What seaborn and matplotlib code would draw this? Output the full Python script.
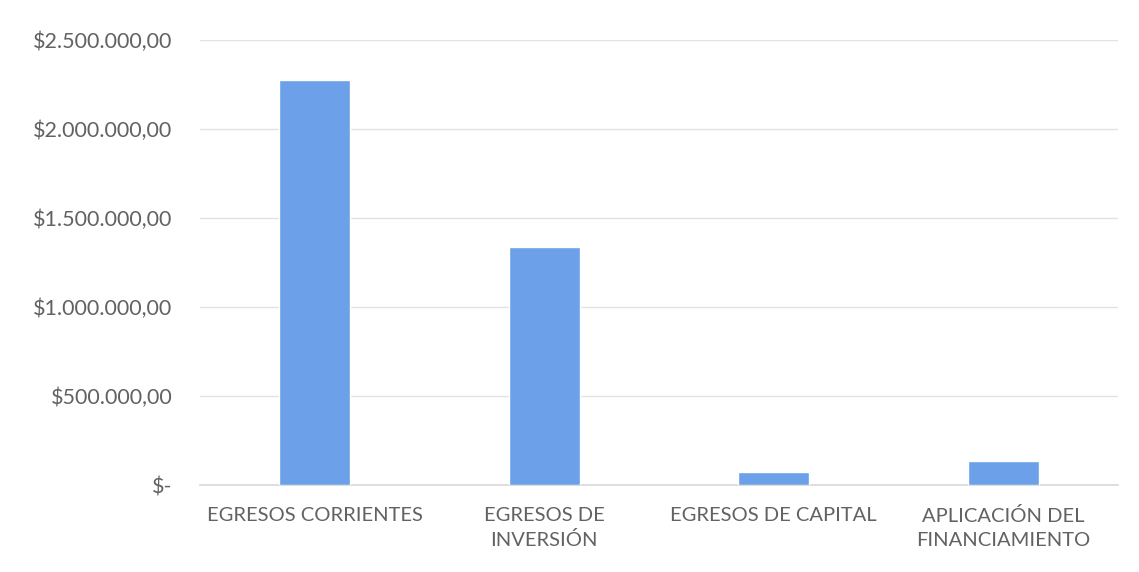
import matplotlib
matplotlib.use("Agg")
import matplotlib.pyplot as plt
import seaborn as sns
import pandas as pd
from matplotlib.ticker import FuncFormatter

sns.set_theme(style="white")
plt.rcParams["font.family"] = ["Lato", "DejaVu Sans"]

# data
categories = ["EGRESOS CORRIENTES", "EGRESOS DE\nINVERSIÓN", "EGRESOS DE CAPITAL", "APLICACIÓN DEL\nFINANCIAMIENTO"]
amounts = [2275000, 1335000, 73000, 135000]
y_ticks = [0, 500000, 1000000, 1500000, 2000000, 2500000]

df = pd.DataFrame({"categoria": categories, "monto": amounts})


def money(v, pos):
    if v == 0:
        return "$-"
    s = f"{v:,.2f}"
    s = s.replace(",", "X").replace(".", ",").replace("X", ".")
    return "$" + s


fig = plt.figure(figsize=(11.39, 5.72), dpi=100)
ax = fig.add_axes([0.1756, 0.152, 0.806, 0.778])

sns.barplot(data=df, x="categoria", y="monto", color="#6CA0E8", width=0.31,
            saturation=1, ax=ax, zorder=3)

ax.set_ylim(0, 2500000)
ax.set_xlim(-0.5, 3.5)
ax.set_yticks(y_ticks)
ax.yaxis.set_major_formatter(FuncFormatter(money))
ax.grid(axis="y", color="#E3E3E3", linewidth=1, zorder=0)
ax.set_xlabel("")
ax.set_ylabel("")
for side in ["top", "right", "left"]:
    ax.spines[side].set_visible(False)
ax.spines["bottom"].set_color("#D9D9D9")
ax.tick_params(axis="y", labelsize=15.5, length=0, pad=20)
ax.tick_params(axis="x", labelsize=14.5, length=0, pad=16)
for lbl in ax.get_yticklabels() + ax.get_xticklabels():
    lbl.set_color("#626262")
for lbl in ax.get_xticklabels():
    lbl.set_linespacing(1.45)

fig.savefig("out.png", dpi=100, facecolor="white")
